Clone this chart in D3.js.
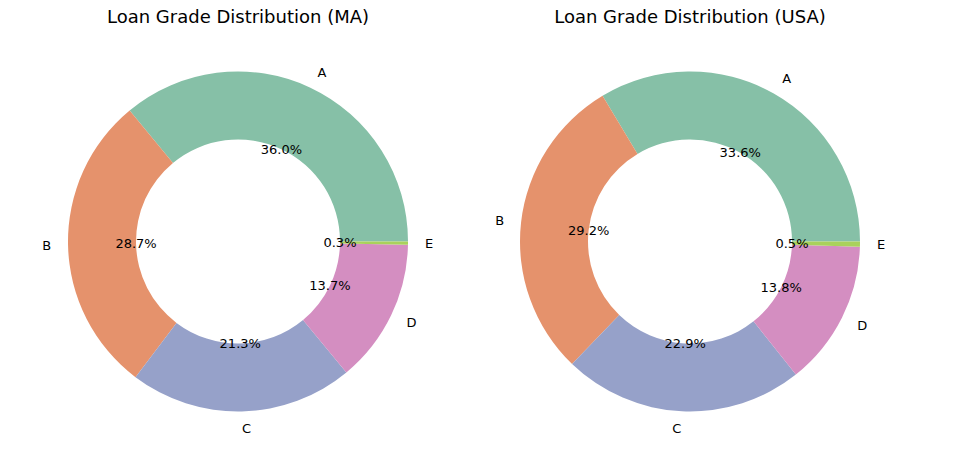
<!DOCTYPE html>
<html>
<head>
<meta charset="utf-8">
<script src="https://cdn.jsdelivr.net/npm/d3@7"></script>
<style>
  body { margin: 0; background: #fff; }
  text { font-family: "DejaVu Sans", sans-serif; fill: #000; }
</style>
</head>
<body>
<svg id="chart" width="979" height="455"></svg>
<script>
// Data
var grades = ["A", "B", "C", "D", "E"];
var maShares = [36.0, 28.7, 21.3, 13.7, 0.3];
var usaShares = [33.6, 29.2, 22.9, 13.8, 0.5];
var titles = ["Loan Grade Distribution (MA)", "Loan Grade Distribution (USA)"];
var colors = ["#86c0a7", "#e5926c", "#96a1c9", "#d48ec1", "#a9d25b"];

var svg = d3.select("#chart");

var outerR = 170;
var innerR = outerR * 0.6;
var centers = [[238, 241.5], [690, 241.5]];

var color = d3.scaleOrdinal().domain(grades).range(colors);

// matplotlib style: start at 3 o'clock, counter-clockwise
var pie = d3.pie()
  .sort(null)
  .value(d => d.v)
  .startAngle(Math.PI / 2)
  .endAngle(Math.PI / 2 - 2 * Math.PI);

var arc = d3.arc().innerRadius(innerR).outerRadius(outerR);

function drawDonut(idx, shares) {
  var data = grades.map((g, i) => ({ g: g, v: shares[i] }));
  var arcs = pie(data);
  var g = svg.append("g")
    .attr("transform", `translate(${centers[idx][0]},${centers[idx][1]})`);

  g.selectAll("path")
    .data(arcs)
    .enter()
    .append("path")
    .attr("d", arc)
    .attr("fill", d => color(d.data.g));

  // category labels at 1.1 r
  g.selectAll("text.lab")
    .data(arcs)
    .enter()
    .append("text")
    .attr("class", "lab")
    .attr("x", d => Math.sin((d.startAngle + d.endAngle) / 2) * outerR * 1.1)
    .attr("y", d => -Math.cos((d.startAngle + d.endAngle) / 2) * outerR * 1.1)
    .attr("text-anchor", d => Math.sin((d.startAngle + d.endAngle) / 2) > 0 ? "start" : "end")
    .attr("dominant-baseline", "central")
    .style("font-size", "13px")
    .text(d => d.data.g);

  // percentages at 0.6 r
  g.selectAll("text.pct")
    .data(arcs)
    .enter()
    .append("text")
    .attr("class", "pct")
    .attr("x", d => Math.sin((d.startAngle + d.endAngle) / 2) * outerR * 0.6)
    .attr("y", d => -Math.cos((d.startAngle + d.endAngle) / 2) * outerR * 0.6)
    .attr("text-anchor", "middle")
    .attr("dominant-baseline", "central")
    .style("font-size", "13px")
    .text(d => d.data.v.toFixed(1) + "%");

  svg.append("text")
    .attr("x", centers[idx][0])
    .attr("y", 23)
    .attr("text-anchor", "middle")
    .style("font-size", "18px")
    .text(titles[idx]);
}

drawDonut(0, maShares);
drawDonut(1, usaShares);
</script>
</body>
</html>
